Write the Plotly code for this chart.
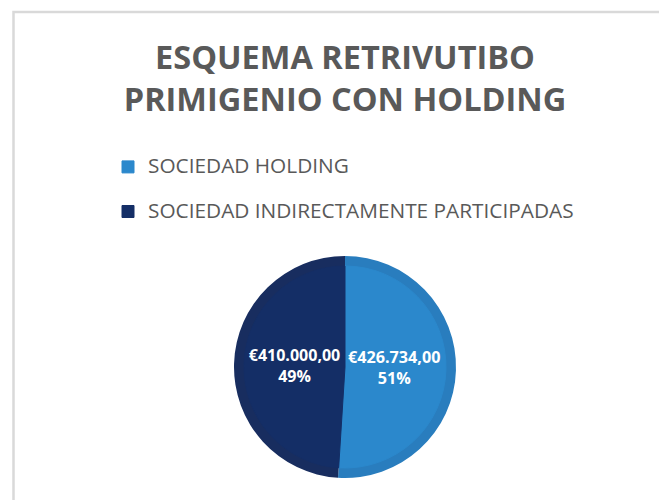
import plotly.graph_objects as go

labels = ["SOCIEDAD HOLDING", "SOCIEDAD INDIRECTAMENTE PARTICIPADAS"]
values = [426734.00, 410000.00]
colors = ["#2B88CC", "#142E66"]
edge_colors = ["#297DBE", "#182D5F"]
title_lines = ["ESQUEMA RETRIVUTIBO", "PRIMIGENIO CON HOLDING"]

W, H = 667, 500
# page is drawn with an 8px body margin; coordinates below are figure pixels
cx, cy, r, ring = 337, 359, 111, 10


def dom(rad):
    return dict(
        x=[(cx - rad) / W, (cx + rad) / W],
        y=[1 - (cy + rad) / H, 1 - (cy - rad) / H],
    )


legend_labels = [
    "<span style='font-size:20.8px'>" + l + "</span><br> " for l in labels
]

fig = go.Figure()
# outer ring (soft edge)
fig.add_trace(
    go.Pie(
        labels=legend_labels,
        values=values,
        sort=False,
        direction="clockwise",
        rotation=0,
        marker=dict(colors=edge_colors, line=dict(width=0)),
        textinfo="none",
        hoverinfo="skip",
        showlegend=False,
        domain=dom(r),
    )
)
# main slices
fig.add_trace(
    go.Pie(
        labels=legend_labels,
        values=values,
        customdata=labels,
        sort=False,
        direction="clockwise",
        rotation=0,
        marker=dict(colors=colors, line=dict(color=colors, width=1)),
        texttemplate="€%{value:,.2f}<br>%{percent:.0%}",
        textposition="inside",
        insidetextorientation="horizontal",
        textfont=dict(family="Open Sans", size=18.5, color="white", weight="bold"),
        hovertemplate="%{customdata}: €%{value:,.2f} (%{percent:.0%})<extra></extra>",
        domain=dom(r - ring),
    )
)

fig.update_layout(
    width=W,
    height=H,
    margin=dict(l=0, r=0, t=0, b=0),
    paper_bgcolor="white",
    separators=",.",
    title=dict(
        text="<br>".join(title_lines),
        x=cx / W,
        xanchor="center",
        yref="container",
        y=1 - 61 / H,
        yanchor="top",
        font=dict(family="Open Sans", size=32.5, color="#595959", weight="bold"),
    ),
    legend=dict(
        x=100 / W,
        xanchor="left",
        y=1 - 142 / H,
        yanchor="top",
        valign="top",
        font=dict(family="Open Sans", size=16.0, color="#595959"),
        bgcolor="rgba(0,0,0,0)",
    ),
    shapes=[
        dict(
            type="rect",
            xref="paper",
            yref="paper",
            x0=5.5 / W,
            x1=1.1,
            y0=-0.1,
            y1=1 - 4 / H,
            line=dict(color="#D9D9D9", width=2.5),
            fillcolor="rgba(0,0,0,0)",
        )
    ],
)

fig.write_html("out.html")
